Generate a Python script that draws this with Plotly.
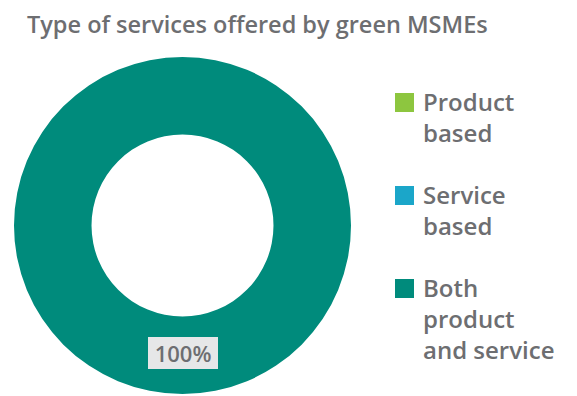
import plotly.graph_objects as go

# Share of green MSMEs by type of service offered
categories = ["Product based", "Service based", "Both product and service"]
legend_lines = [["Product", "based"], ["Service", "based"], ["Both", "product", "and service"]]
shares = [0, 0, 100]
colors = ["#8dc63f", "#1ba6c9", "#008b7c"]

W, H = 577, 396
TEXT_GRAY = "#6d6e71"
FONT = "Open Sans"

# Pie placement in pixels (left, right, top, bottom)
pie_l, pie_r, pie_t, pie_b = 14, 351, 57, 394
hole = 0.54

fig = go.Figure()
fig.add_trace(go.Pie(
    labels=categories,
    values=shares,
    hole=hole,
    marker=dict(colors=colors, line=dict(width=0)),
    textinfo="none",
    sort=False,
    direction="clockwise",
    rotation=0,
    showlegend=False,
    domain=dict(x=[pie_l / W, pie_r / W], y=[1 - pie_b / H, 1 - pie_t / H]),
))

# Percentage label for the largest share, centred in the ring at the bottom
total = sum(shares)
idx = max(range(len(shares)), key=lambda i: shares[i])
pct = shares[idx] / total * 100
cx = (pie_l + pie_r) / 2
cy = (pie_t + pie_b) / 2
r_out = (pie_r - pie_l) / 2
r_mid = r_out * (1 + hole) / 2
fig.add_annotation(
    x=cx / W, y=1 - (cy + r_mid - 2) / H, xref="paper", yref="paper",
    xanchor="center", yanchor="middle",
    text=f"&nbsp;{pct:.0f}%&nbsp;", showarrow=False,
    font=dict(family=FONT, size=22, color=TEXT_GRAY, weight=600),
    bgcolor="#e6e7e8", bordercolor="#e6e7e8", borderpad=0, borderwidth=1,
)

# Legend: colour squares with wrapped labels
sq_x0, sq_size = 395, 19
text_x = 421
line_h = 30
gap = 33
top = 93
for lines, col in zip(legend_lines, colors):
    fig.add_shape(
        type="rect", xref="paper", yref="paper",
        x0=sq_x0 / W, x1=(sq_x0 + sq_size) / W,
        y0=1 - (top + sq_size) / H, y1=1 - top / H,
        fillcolor=col, line=dict(width=0),
    )
    fig.add_annotation(
        x=text_x / W, y=1 - (top - 10) / H, xref="paper", yref="paper",
        xanchor="left", yanchor="top", align="left",
        text="<br>".join(lines), showarrow=False,
        font=dict(family=FONT, size=24, color=TEXT_GRAY, weight=600),
    )
    top += len(lines) * line_h + gap

fig.update_layout(
    width=W, height=H,
    margin=dict(l=0, r=0, t=0, b=0),
    paper_bgcolor="white", plot_bgcolor="white",
    title=dict(
        text="Type of services offered by green MSMEs",
        x=27 / W, xanchor="left", y=1 - 25 / H, yanchor="middle",
        font=dict(family=FONT, size=23.5, color=TEXT_GRAY, weight=600),
    ),
)

fig.write_html("out.html")
